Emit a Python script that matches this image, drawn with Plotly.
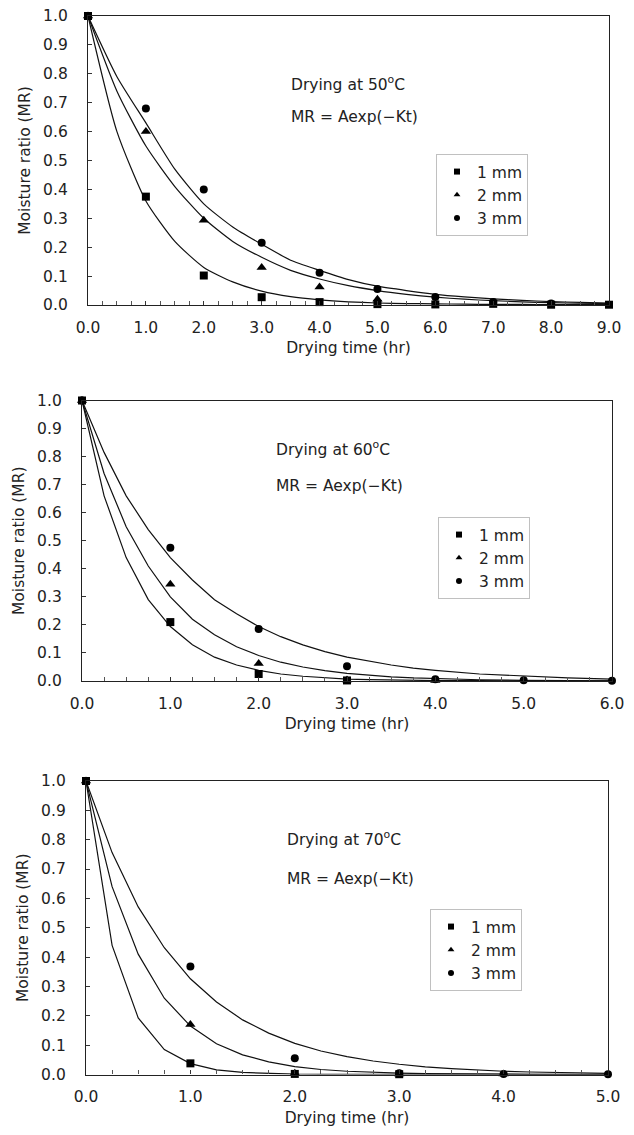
import plotly.graph_objects as go

# ---------------- DATA ----------------
sizes = ["1 mm", "2 mm", "3 mm"]

# Panel 1: drying at 50 C  (measured points)
t50_1mm = [0, 1, 2, 3, 4, 5, 6, 7, 8, 9]
mr50_1mm = [1.0, 0.375, 0.102, 0.027, 0.010, 0.003, 0.002, 0.004, 0.001, 0.001]
t50_2mm = [0, 1, 2, 3, 4, 5]
mr50_2mm = [1.0, 0.60, 0.293, 0.13, 0.062, 0.02]
t50_3mm = [0, 1, 2, 3, 4, 5, 6, 7, 8]
mr50_3mm = [1.0, 0.68, 0.40, 0.215, 0.112, 0.055, 0.028, 0.010, 0.005]
# Panel 1 fitted curves (every 0.5 h)
tc50 = [0, 0.5, 1, 1.5, 2, 2.5, 3, 3.5, 4, 4.5, 5, 5.5, 6, 6.5, 7, 7.5, 8, 8.5, 9]
fit50_1mm = [1.0, 0.60, 0.36, 0.22, 0.13, 0.08, 0.048, 0.029, 0.018, 0.011, 0.007,
             0.005, 0.004, 0.003, 0.002, 0.002, 0.001, 0.001, 0.001]
fit50_2mm = [1.0, 0.74, 0.55, 0.41, 0.30, 0.22, 0.165, 0.12, 0.09, 0.067, 0.05,
             0.037, 0.027, 0.02, 0.015, 0.011, 0.008, 0.006, 0.005]
fit50_3mm = [1.0, 0.79, 0.63, 0.47, 0.35, 0.27, 0.21, 0.155, 0.12, 0.088, 0.065,
             0.05, 0.037, 0.028, 0.021, 0.016, 0.012, 0.009, 0.007]

# Panel 2: drying at 60 C
t60_1mm = [0, 1, 2, 3]
mr60_1mm = [1.0, 0.21, 0.025, 0.002]
t60_2mm = [0, 1, 2, 3, 4]
mr60_2mm = [1.0, 0.345, 0.062, 0.004, 0.002]
t60_3mm = [0, 1, 2, 3, 4, 5, 6]
mr60_3mm = [1.0, 0.475, 0.185, 0.053, 0.006, 0.003, 0.001]
tc60 = [0, 0.25, 0.5, 0.75, 1, 1.25, 1.5, 1.75, 2, 2.25, 2.5, 2.75, 3, 3.25, 3.5,
        3.75, 4, 4.5, 5, 5.5, 6]
fit60_1mm = [1.0, 0.66, 0.44, 0.29, 0.194, 0.129, 0.085, 0.057, 0.038, 0.025, 0.017,
             0.011, 0.007, 0.005, 0.003, 0.002, 0.0015, 0.001, 0.0005, 0.0003, 0.0002]
fit60_2mm = [1.0, 0.74, 0.55, 0.41, 0.30, 0.22, 0.165, 0.122, 0.091, 0.067, 0.05,
             0.037, 0.027, 0.02, 0.015, 0.011, 0.008, 0.0045, 0.0025, 0.0014, 0.0007]
fit60_3mm = [1.0, 0.815, 0.66, 0.54, 0.44, 0.36, 0.29, 0.24, 0.194, 0.158, 0.129,
             0.105, 0.085, 0.07, 0.057, 0.046, 0.038, 0.025, 0.017, 0.011, 0.007]

# Panel 3: drying at 70 C
t70_1mm = [0, 1, 2, 3]
mr70_1mm = [1.0, 0.038, 0.002, 0.001]
t70_2mm = [0, 1, 2, 3, 4]
mr70_2mm = [1.0, 0.17, 0.004, 0.002, 0.002]
t70_3mm = [0, 1, 2, 3, 4, 5]
mr70_3mm = [1.0, 0.368, 0.055, 0.004, 0.002, 0.001]
tc70 = [0, 0.25, 0.5, 0.75, 1, 1.25, 1.5, 1.75, 2, 2.25, 2.5, 2.75, 3, 3.25, 3.5,
        3.75, 4, 4.25, 4.5, 4.75, 5]
fit70_1mm = [1.0, 0.44, 0.193, 0.085, 0.037, 0.016, 0.007, 0.003, 0.0014, 0.0006,
             0.0003, 0.0001, 0.0001, 0, 0, 0, 0, 0, 0, 0, 0]
fit70_2mm = [1.0, 0.64, 0.41, 0.26, 0.165, 0.105, 0.067, 0.043, 0.027, 0.017, 0.011,
             0.007, 0.0045, 0.003, 0.0018, 0.0012, 0.0007, 0.0005, 0.0003, 0.0002, 0.0001]
fit70_3mm = [1.0, 0.756, 0.571, 0.432, 0.326, 0.247, 0.186, 0.141, 0.106, 0.080, 0.061,
             0.046, 0.035, 0.026, 0.020, 0.015, 0.011, 0.0085, 0.0065, 0.005, 0.0037]

panel_titles = ["Drying at 50<sup>o</sup>C", "Drying at 60<sup>o</sup>C", "Drying at 70<sup>o</sup>C"]
model_text = "MR = Aexp(\u2212Kt)"
x_ticks = [[0, 1, 2, 3, 4, 5, 6, 7, 8, 9], [0, 1, 2, 3, 4, 5, 6], [0, 1, 2, 3, 4, 5]]
y_ticks = [0, 0.1, 0.2, 0.3, 0.4, 0.5, 0.6, 0.7, 0.8, 0.9, 1.0]

panels = [
    dict(points=[(t50_1mm, mr50_1mm), (t50_2mm, mr50_2mm), (t50_3mm, mr50_3mm)],
         tc=tc50, fits=[fit50_1mm, fit50_2mm, fit50_3mm], shape="spline"),
    dict(points=[(t60_1mm, mr60_1mm), (t60_2mm, mr60_2mm), (t60_3mm, mr60_3mm)],
         tc=tc60, fits=[fit60_1mm, fit60_2mm, fit60_3mm], shape="linear"),
    dict(points=[(t70_1mm, mr70_1mm), (t70_2mm, mr70_2mm), (t70_3mm, mr70_3mm)],
         tc=tc70, fits=[fit70_1mm, fit70_2mm, fit70_3mm], shape="linear"),
]

# ---------------- LAYOUT / STYLE ----------------
OFF = 8                      # default page margin of the html body
W, H = 634 - OFF, 1135 - OFF
FONT = "DejaVu Sans"
FS = 15.5
TXT = "#222222"
symbols = ["square", "triangle-up", "circle"]
msize = [8, 9, 8]

# plot-area pixel boxes in window coords: (left, right, top, bottom)
boxes = [(88, 609, 16, 305), (82, 612, 400.5, 681), (86, 608, 781, 1074.5)]
text_pos = [(289, 84, 117), (274, 448, 486), (285, 838, 879)]
legend_pos = [(436, 154), (438, 517), (430, 909)]


def px_x(v):
    return (v - OFF) / W


def px_y(v):
    return 1 - (v - OFF) / H


fig = go.Figure()

for p, panel in enumerate(panels):
    xa = "x" if p == 0 else f"x{p+1}"
    ya = "y" if p == 0 else f"y{p+1}"
    lg = "legend" if p == 0 else f"legend{p+1}"
    for s in range(3):
        fig.add_trace(go.Scatter(
            x=panel["tc"], y=panel["fits"][s], mode="lines",
            line=dict(color="#111111", width=1.2, shape=panel["shape"], smoothing=0.6),
            xaxis=xa, yaxis=ya, showlegend=False, hoverinfo="skip"))
    for s in range(3):
        tx, my = panel["points"][s]
        fig.add_trace(go.Scatter(
            x=tx, y=my, mode="markers", name=sizes[s],
            marker=dict(symbol=symbols[s], size=msize[s], color="#000000"),
            xaxis=xa, yaxis=ya, showlegend=False, cliponaxis=False))
    for s in range(3):
        fig.add_trace(go.Scatter(
            x=[None], y=[None], mode="markers", name=sizes[s],
            marker=dict(symbol=symbols[s], size=6, color="#000000"),
            xaxis=xa, yaxis=ya, showlegend=True, legend=lg))

layout = dict(
    width=W, height=H, margin=dict(l=0, r=0, t=0, b=0, pad=0, autoexpand=False),
    paper_bgcolor="white", plot_bgcolor="white",
    font=dict(family=FONT, size=FS, color=TXT),
)

annotations = []
for p in range(3):
    l, r, t, b = boxes[p]
    sx = "" if p == 0 else str(p + 1)
    xdom = [px_x(l), px_x(r)]
    ydom = [px_y(b), px_y(t)]
    layout["xaxis" + sx] = dict(
        domain=xdom, anchor="y" + sx, range=[0, x_ticks[p][-1]],
        tickvals=x_ticks[p], tickformat=".1f", automargin=False, ticklabeloverflow="allow",
        ticks="inside", ticklen=4, tickcolor="#333", tickwidth=1,
        minor=dict(dtick=0.25, ticks="inside", ticklen=4, tickcolor="#555", showgrid=False),
        showline=True, linecolor="#222", linewidth=1.3, mirror=True,
        showgrid=False, zeroline=False, ticklabelstandoff=8,
        title=dict(text="Drying time (hr)", standoff=6, font=dict(size=FS)),
    )
    layout["yaxis" + sx] = dict(
        domain=ydom, anchor="x" + sx, range=[0, 1],
        tickvals=y_ticks, tickformat=".1f", automargin=False, ticklabeloverflow="allow",
        ticks="inside", ticklen=4, tickcolor="#333", tickwidth=1,
        showline=True, linecolor="#222", linewidth=1.3, mirror=True,
        showgrid=False, zeroline=False, ticklabelstandoff=16,
        title=dict(text="Moisture ratio (MR)", standoff=8, font=dict(size=FS)),
    )
    tx, ty1, ty2 = text_pos[p]
    annotations.append(dict(text=panel_titles[p], x=px_x(tx), y=px_y(ty1), xref="paper", yref="paper",
                            xanchor="left", yanchor="middle", showarrow=False, font=dict(size=FS)))
    annotations.append(dict(text=model_text, x=px_x(tx), y=px_y(ty2), xref="paper", yref="paper",
                            xanchor="left", yanchor="middle", showarrow=False, font=dict(size=FS)))
    lx, ly = legend_pos[p]
    layout["legend" if p == 0 else f"legend{p+1}"] = dict(
        x=px_x(lx), y=px_y(ly), xanchor="left", yanchor="top", xref="paper", yref="paper",
        bgcolor="white", bordercolor="#c0c0c0", borderwidth=1,
        font=dict(size=FS, color=TXT), itemwidth=30, tracegroupgap=0,
    )

layout["annotations"] = annotations
fig.update_layout(**layout)
fig.write_html("out.html")
